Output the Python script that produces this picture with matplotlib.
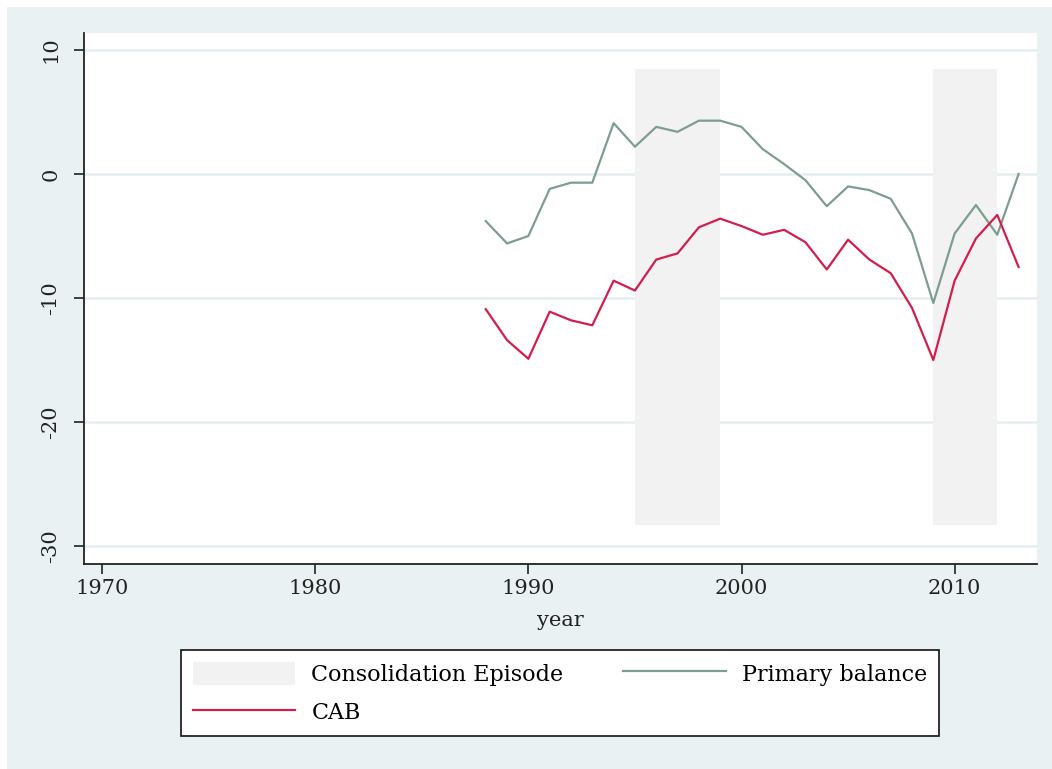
import matplotlib
matplotlib.use('Agg')
import matplotlib.pyplot as plt
from matplotlib.patches import Rectangle, Patch
import numpy as np

# data
years = list(range(1988, 2014))
primary_balance = [-3.8, -5.6, -5.0, -1.2, -0.7, -0.7, 4.1, 2.2, 3.8, 3.4, 4.3, 4.3, 3.8,
                   2.0, 0.8, -0.5, -2.6, -1.0, -1.3, -2.0, -4.8, -10.4, -4.8, -2.5, -4.9, 0.0]
cab = [-10.9, -13.4, -14.9, -11.1, -11.8, -12.2, -8.6, -9.4, -6.9, -6.4, -4.3, -3.6, -4.2,
       -4.9, -4.5, -5.5, -7.7, -5.3, -6.9, -8.0, -10.8, -15.0, -8.6, -5.2, -3.3, -7.5]
episode_start = [1995, 2009]
episode_end = [1999, 2012]
shade_low, shade_high = -28.3, 8.5

bg = '#EAF1F3'
grid_c = '#E4EEF1'
green = '#7F9D8E'
red = '#D21E4C'
shade = '#F2F2F2'

plt.rcParams['font.family'] = ['DejaVu Serif']
plt.rcParams['axes.unicode_minus'] = False

fig = plt.figure(figsize=(10.52, 7.69), dpi=100, facecolor='white')
fig.patches.append(Rectangle((7/1052, 0), 1 - 7/1052, 1 - 7/769, transform=fig.transFigure,
                             facecolor=bg, edgecolor='none', zorder=-10))

ax = fig.add_axes([84/1052, 1 - 564/769, (1036.7 - 84)/1052, (564 - 33)/769])
ax.set_facecolor('white')

for s, e in zip(episode_start, episode_end):
    ax.fill_between([s, e], shade_low, shade_high, color=shade, lw=0, zorder=1)

ax.plot(years, primary_balance, color=green, lw=1.6, zorder=3)
ax.plot(years, cab, color=red, lw=1.6, zorder=3)

ax.set_xlim(1969.15, 2013.85)
ax.set_ylim(-31.45, 11.37)
ax.set_xticks([1970, 1980, 1990, 2000, 2010])
ax.set_yticks([-30, -20, -10, 0, 10])
ax.yaxis.grid(True, color=grid_c, lw=1.8, zorder=0)
ax.set_axisbelow(True)
for sp in ['top', 'right']:
    ax.spines[sp].set_visible(False)
for sp in ['left', 'bottom']:
    ax.spines[sp].set_color('#222222')
    ax.spines[sp].set_linewidth(1.3)
ax.tick_params(length=7, width=1.2, color='#222222', labelsize=15, labelcolor='#222222')
ax.tick_params(axis='y', pad=10)
for lbl in ax.get_yticklabels():
    lbl.set_rotation(90)
    lbl.set_va('center')
ax.set_xlabel('year', fontsize=15, color='#222222', labelpad=10)

handles = [Patch(facecolor=shade, edgecolor='none', label='Consolidation Episode'),
           plt.Line2D([], [], color=red, lw=1.6, label='CAB'),
           plt.Line2D([], [], color=green, lw=1.6, label='Primary balance')]
leg = fig.legend(handles=handles, ncol=2, loc='center',
                 bbox_to_anchor=(560/1052, 1 - 693/769), fontsize=16,
                 handlelength=4.6, handleheight=1.2, columnspacing=2.7, handletextpad=0.72,
                 labelspacing=0.65, frameon=True, fancybox=False, borderpad=0.55,
                 framealpha=1, borderaxespad=0)
leg.get_frame().set_edgecolor('#111111')
leg.get_frame().set_linewidth(1.2)

fig.savefig('out.png', dpi=100, facecolor=fig.get_facecolor())
